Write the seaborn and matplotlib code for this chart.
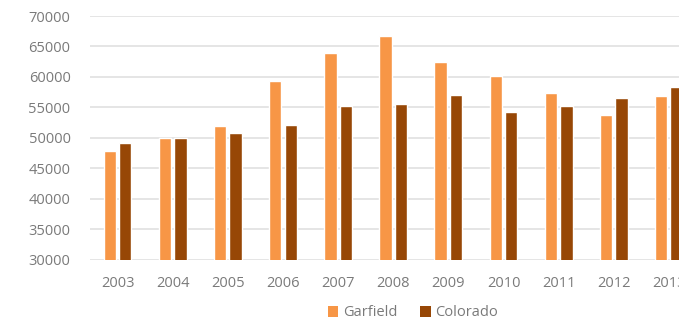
import matplotlib
matplotlib.use("Agg")
import matplotlib.pyplot as plt
import seaborn as sns
import pandas as pd

years = ["2003", "2004", "2005", "2006", "2007", "2008", "2009", "2010", "2011", "2012", "2013"]
garfield = [47800, 50000, 52000, 59300, 64000, 66700, 62400, 60100, 57400, 53800, 56800]
colorado = [49100, 50000, 50700, 52100, 55200, 55600, 57000, 54300, 55200, 56600, 58300]
series = ["Garfield", "Colorado"]
colors = ["#F79646", "#974706"]

df = pd.DataFrame({
    "Year": years * 2,
    "Value": garfield + colorado,
    "Series": [series[0]] * len(years) + [series[1]] * len(years),
})

sns.set_theme(style="white")
plt.rcParams["font.family"] = ["Open Sans", "DejaVu Sans"]

W, H = 679, 327
fig = plt.figure(figsize=(W / 100, H / 100), dpi=100)
left = 90 / W
right = 696.5 / W
bottom = (H - 259.5) / H
top = (H - 16) / H
ax = fig.add_axes([left, bottom, right - left, top - bottom])

sns.barplot(data=df, x="Year", y="Value", hue="Series", palette=colors,
            width=0.56, gap=0.2, ax=ax, legend=False, saturation=1)

ax.set_ylim(30000, 70000)
ax.set_yticks(range(30000, 70001, 5000))
ax.set_xlim(-0.5, len(years) - 0.5)
ax.yaxis.grid(True, color="#e0e0e0", linewidth=1.2)
ax.set_axisbelow(True)
for s in ax.spines.values():
    s.set_visible(False)
ax.set_xlabel("")
ax.set_ylabel("")
ax.tick_params(axis="both", length=0, labelsize=10.5, labelcolor="#7a7a7a")
ax.tick_params(axis="y", pad=14)
ax.tick_params(axis="x", pad=12)

from matplotlib.patches import Patch
handles = [Patch(facecolor=c, edgecolor="none") for c in colors]
fig.legend(handles, series, loc="center", bbox_to_anchor=(413 / W, 14 / H),
           ncol=2, frameon=False, fontsize=10.5, labelcolor="#7a7a7a",
           handlelength=0.7, handleheight=0.7, handletextpad=0.3, columnspacing=1.6)

fig.savefig("out.png", dpi=100)
